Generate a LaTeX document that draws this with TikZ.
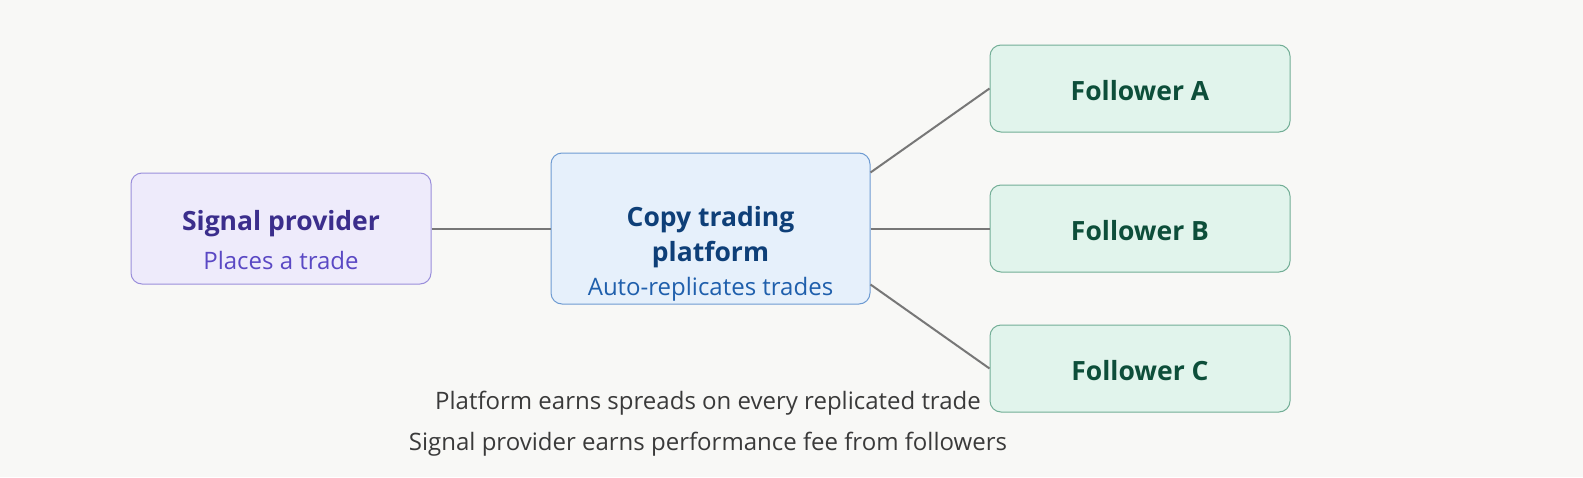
\documentclass[tikz,border=0pt]{standalone}
\usepackage{fontspec}
\setmainfont{Open Sans}
\begin{document}
\begin{tikzpicture}[x=1pt,y=-1pt,
  box/.style={draw, rounded corners=11pt, line width=1pt, inner sep=0pt},
  spbox/.style={box, draw=spB, fill=spF, minimum width=300pt, minimum height=111pt},
  ctpbox/.style={box, draw=ctB, fill=ctF, minimum width=319pt, minimum height=151pt},
  fbox/.style={box, draw=foB, fill=foF, minimum width=300pt, minimum height=87pt},
  ttl/.style={font=\fontsize{26.5}{30}\selectfont\bfseries, inner sep=0pt},
  sub/.style={font=\fontsize{24}{28}\selectfont, inner sep=0pt},
  note/.style={font=\fontsize{24}{28}\selectfont, text=noteC, inner sep=0pt},
  link/.style={draw=linkC, line width=2pt}]
\definecolor{bgC}{HTML}{F8F8F6}
\definecolor{spB}{HTML}{9A8FDB}
\definecolor{spF}{HTML}{EEEBFB}
\definecolor{spT}{HTML}{3B2E8C}
\definecolor{spS}{HTML}{5A48C4}
\definecolor{ctB}{HTML}{6E9BD2}
\definecolor{ctF}{HTML}{E6F0FB}
\definecolor{ctT}{HTML}{0E3F78}
\definecolor{ctS}{HTML}{1F5FAC}
\definecolor{foB}{HTML}{72AE96}
\definecolor{foF}{HTML}{E1F4EC}
\definecolor{foT}{HTML}{0D4E3A}
\definecolor{noteC}{HTML}{3A3A3A}
\definecolor{linkC}{HTML}{777777}
\fill[bgC] (0,0) rectangle (1583,477);
\useasboundingbox (0,0) rectangle (1583,477);

\node[spbox] (sp) at (281,228.5) {};
\node[ctpbox] (ctp) at (710.5,228.5) {};
\node[fbox] (fa) at (1140,88.5) {};
\node[fbox] (fb) at (1140,228.5) {};
\node[fbox] (fc) at (1140,368.5) {};

\path[link] (sp.east) -- (ctp.west);
\path[link] ([yshift=56pt]ctp.east) -- (fa.west);
\path[link] (ctp.east) -- (fb.west);
\path[link] ([yshift=-56pt]ctp.east) -- (fc.west);

\node[ttl, text=spT] (spt) at (281,224) {Signal provider};
\node[sub, text=spS] (sps) at (281,260) {Places a trade};
\node[ttl, text=ctT] (ctt1) at (710.5,220) {Copy trading};
\node[ttl, text=ctT] (ctt2) at (710.5,255) {platform};
\node[sub, text=ctS] (cts) at (710.5,289) {Auto-replicates trades};
\node[ttl, text=foT] (fat) at (1140,91) {Follower A};
\node[ttl, text=foT] (fbt) at (1140,231) {Follower B};
\node[ttl, text=foT] (fct) at (1140,371) {Follower C};

\node[note] (n1) at (708,403) {Platform earns spreads on every replicated trade};
\node[note] (n2) at (708,444) {Signal provider earns performance fee from followers};
\end{tikzpicture}
\end{document}
